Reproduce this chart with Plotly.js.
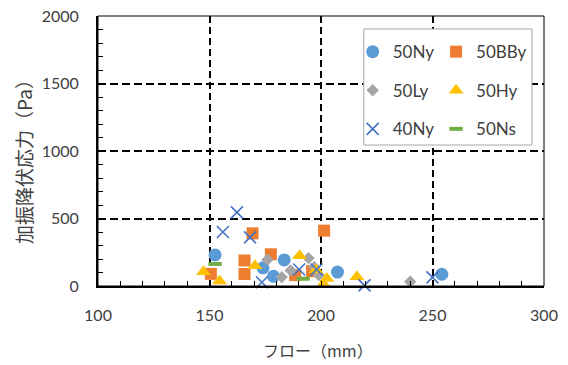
<!DOCTYPE html>
<html>
<head>
<meta charset="utf-8">
<script src="https://cdn.plot.ly/plotly-3.0.1.min.js"></script>
<style>html,body{margin:0;padding:0;background:#fff;}#chart{width:568px;height:365px;}</style>
</head>
<body>
<div id="chart"></div>
<script>
// Data
const names = ["50Ny", "50BBy", "50Ly", "50Hy", "40Ny", "50Ns"];

const flow50Ny  = [152.5, 174, 178.7, 183.5, 207.4, 254.2];
const yield50Ny = [230, 135, 72, 193, 103, 87];

const flow50BBy  = [150.6, 165.7, 165.7, 169.3, 177.5, 188.4, 196, 201.4];
const yield50BBy = [90, 189, 89, 390, 235, 81, 110, 410];

const flow50Ly  = [176, 182.4, 186.4, 194.4, 197, 199, 240];
const yield50Ly = [195, 66, 115, 207, 140, 81, 32];

const flow50Hy  = [147.3, 154.5, 170.4, 190.4, 197.8, 202.6, 201.1, 216.1];
const yield50Hy = [106, 37, 150, 225, 118, 55, 15, 69];

const flow40Ny  = [156, 162.3, 168.2, 173.5, 190.2, 198, 219.5, 250];
const yield40Ny = [400, 545, 360, 28, 122, 122, 5, 64];

const flow50Ns  = [152.5, 192];
const yield50Ns = [163, 54];

const xTickVals = [100, 150, 200, 250, 300];
const yTickVals = [0, 500, 1000, 1500, 2000];

const xTitle = "フロー（mm）";
const yTitle = "加振降伏応力（Pa）";

const latin = "Lato, 'Noto Sans CJK JP', sans-serif";
const cjk = "'Noto Sans CJK JP', sans-serif";

const traces = [
  {x: flow50Ny, y: yield50Ny, name: names[0], legend: "legend", legendgroup: "a",
   marker: {symbol: "circle", size: 13, color: "#5B9BD5"}},
  {x: flow50BBy, y: yield50BBy, name: names[1], legend: "legend2", legendgroup: "b",
   marker: {symbol: "square", size: 12, color: "#ED7D31"}},
  {x: flow50Ly, y: yield50Ly, name: names[2], legend: "legend", legendgroup: "c",
   marker: {symbol: "diamond", size: 9.5, color: "#A5A5A5"}},
  {x: flow50Hy, y: yield50Hy, name: names[3], legend: "legend2", legendgroup: "d",
   marker: {symbol: "triangle-up", size: 13, color: "#FFC000"}},
  {x: flow40Ny, y: yield40Ny, name: names[4], legend: "legend", legendgroup: "e",
   marker: {symbol: "x-thin-open", size: 12, color: "#4472C4", line: {width: 1.6, color: "#4472C4"}}},
  {x: flow50Ns, y: yield50Ns, name: names[5], legend: "legend2", legendgroup: "f",
   marker: {symbol: "line-ew-open", size: 9.5, color: "#70AD47", line: {width: 4, color: "#70AD47"}}}
].map(t => Object.assign({type: "scatter", mode: "markers", cliponaxis: false}, t));

const legendCommon = {
  orientation: "v", xanchor: "left", yanchor: "top",
  bgcolor: "rgba(0,0,0,0)", borderwidth: 0,
  font: {family: latin, size: 17, color: "#404040"},
  traceorder: "grouped", tracegroupgap: 13.5, itemsizing: "trace"
};

const layout = {
  width: 568, height: 365,
  margin: {l: 98, r: 24, t: 16, b: 79},
  paper_bgcolor: "#fff", plot_bgcolor: "#fff",
  showlegend: true,
  xaxis: {
    range: [100, 300], tickvals: xTickVals, ticktext: xTickVals.map(String),
    showline: true, linecolor: "#000", linewidth: 2, mirror: false,
    ticks: "inside", ticklen: 5, tickwidth: 1, tickcolor: "#000",
    minor: {dtick: 10, ticks: "inside", ticklen: 5, tickwidth: 1, tickcolor: "#000", showgrid: false},
    showgrid: true, gridcolor: "#000", gridwidth: 2, griddash: "7px,4px",
    zeroline: false,
    tickfont: {family: latin, size: 16, color: "#404040"},
    ticklabelstandoff: 14
  },
  yaxis: {
    range: [0, 2000], tickvals: yTickVals, ticktext: yTickVals.map(String),
    showline: true, linecolor: "#000", linewidth: 2, mirror: false,
    ticks: "inside", ticklen: 5, tickwidth: 1, tickcolor: "#000",
    minor: {dtick: 100, ticks: "inside", ticklen: 5, tickwidth: 1, tickcolor: "#000", showgrid: false},
    showgrid: true, gridcolor: "#000", gridwidth: 2, griddash: "8px,4px",
    zeroline: false,
    tickfont: {family: latin, size: 16, color: "#404040"},
    ticklabelstandoff: 14
  },
  annotations: [
    {text: xTitle, xref: "paper", yref: "paper", x: 0.494, y: -0.237,
     xanchor: "center", yanchor: "middle", showarrow: false,
     font: {family: cjk, size: 16, color: "#404040"}},
    {text: yTitle, xref: "paper", yref: "paper", x: -0.166, y: 0.478,
     xanchor: "center", yanchor: "middle", showarrow: false, textangle: -90,
     font: {family: cjk, size: 19, color: "#404040"}}
  ],
  legend: Object.assign({x: 0.571, y: 0.933}, legendCommon),
  legend2: Object.assign({x: 0.758, y: 0.933}, legendCommon),
  shapes: [
    {type: "rect", xref: "paper", yref: "paper", x0: 0, x1: 1, y0: 0, y1: 1,
     line: {color: "#000", width: 1}, layer: "above"},
    {type: "rect", xref: "paper", yref: "paper", x0: 0.596, x1: 0.973, y0: 0.522, y1: 0.952,
     fillcolor: "#fff", line: {color: "#A6A6A6", width: 1}, layer: "above"}
  ]
};

Plotly.newPlot("chart", traces, layout, {staticPlot: true, displayModeBar: false});
</script>
</body>
</html>
